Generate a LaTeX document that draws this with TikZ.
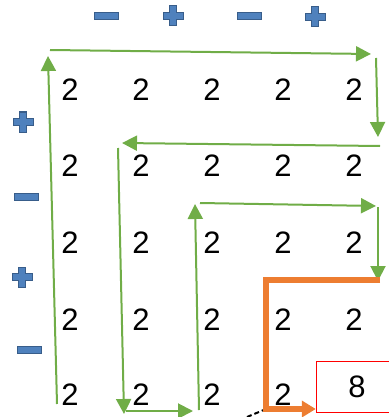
\documentclass[tikz,border=0pt]{standalone}
\usepackage{fontspec}
\setmainfont{Liberation Sans}
\usetikzlibrary{arrows.meta}
\definecolor{SignBlue}{HTML}{4F81BD}
\definecolor{SignEdge}{HTML}{385D8A}
\definecolor{PathGreen}{HTML}{70AD47}
\definecolor{PathOrange}{HTML}{ED7D31}
\tikzset{
    % number cells
    digit/.style={
        inner sep=0pt,
        font=\fontsize{31}{31}\selectfont
    },
    result box/.style={
        rectangle,
        draw=red,
        thin,
        inner sep=0pt,
        minimum width=82pt,
        minimum height=51pt,
        font=\fontsize{31}{31}\selectfont
    },
    % spiral arrows
    green arrow/.style={
        -{Triangle[length=15pt,width=15pt]},
        line width=2pt,
        PathGreen
    },
    orange arrow/.style={
        -{Triangle[length=14pt,width=16pt]},
        line width=5.5pt,
        PathOrange
    },
    % sign glyphs
    sign/.style={
        fill=SignBlue,
        draw=SignEdge,
        line width=1pt
    },
    plus sign/.pic={
        \filldraw[sign] (-3.5,-10) -- (3.5,-10) -- (3.5,-3.5) -- (10,-3.5)
            -- (10,3.5) -- (3.5,3.5) -- (3.5,10) -- (-3.5,10) -- (-3.5,3.5)
            -- (-10,3.5) -- (-10,-3.5) -- (-3.5,-3.5) -- cycle;
    },
    minus sign/.pic={
        \filldraw[sign] (-12,-3.5) rectangle (12,3.5);
    }
}

\begin{document}
\begin{tikzpicture}[x=1pt, y=-1pt]
    \useasboundingbox (0,0) rectangle (388,417);

    % Signs along the top and the left side
    \pic at (106,16) {minus sign};
    \pic at (173,16) {plus sign};
    \pic at (249,16) {minus sign};
    \pic at (315,17) {plus sign};
    \pic at (23,122) {plus sign};
    \pic at (26,197) {minus sign};
    \pic at (22,277) {plus sign};
    \pic at (29,350) {minus sign};

    % Grid of values
    \foreach \ypos [count=\r] in {90,166,243,320,395} {
        \foreach \xpos [count=\c] in {70,141,212,283,354} {
            \ifnum\r\c=55 \else
                \node[digit] (d\r\c) at (\xpos,\ypos) {2};
            \fi
        }
    }
    \node[result box] (eight) at (357,386.5) {8};

    % Corners of the spiral
    \coordinate (s1) at (57,404);   \coordinate (e1) at (48,56);
    \coordinate (s2) at (50,50);    \coordinate (e2) at (371,54);
    \coordinate (s3) at (376,58);   \coordinate (e3) at (378,137);
    \coordinate (s4) at (380,146);  \coordinate (e4) at (122,143);
    \coordinate (s5) at (118,148);  \coordinate (e5) at (124,414);
    \coordinate (s6) at (126,411);  \coordinate (e6) at (193,411);
    \coordinate (s7) at (199,410);  \coordinate (e7) at (195,204);
    \coordinate (s8) at (200,203);  \coordinate (e8) at (376,206);
    \coordinate (s9) at (378,207);  \coordinate (e9) at (378,281);

    \draw[green arrow] (s1) -- (e1);
    \draw[green arrow] (s2) -- (e2);
    \draw[green arrow] (s3) -- (e3);
    \draw[green arrow] (s4) -- (e4);
    \draw[green arrow] (s5) -- (e5);
    \draw[green arrow] (s6) -- (e6);
    \draw[green arrow] (s7) -- (e7);
    \draw[green arrow] (s8) -- (e8);
    \draw[green arrow] (s9) -- (e9);

    % Last turn into the result
    \coordinate (o1) at (380,280);
    \coordinate (o2) at (266,280);
    \coordinate (o3) at (266,409);
    \coordinate (k1) at (247,417);
    \draw[dash pattern=on 5pt off 3pt, line width=2pt] (k1) -- (o3);
    \draw[orange arrow] (o1) -- (o2) -- (o3) -- (eight.west |- o3);
\end{tikzpicture}
\end{document}
